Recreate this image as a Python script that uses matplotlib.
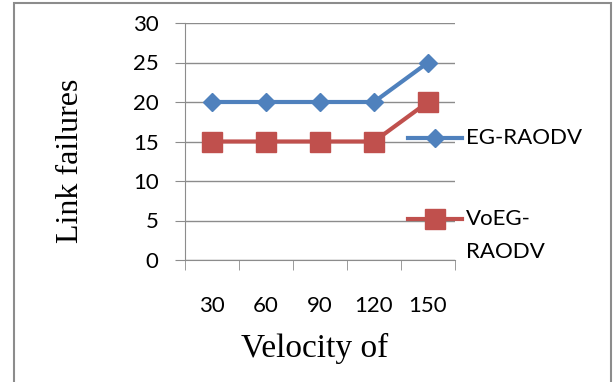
import matplotlib
matplotlib.use("Agg")
import matplotlib.pyplot as plt
from matplotlib.patches import Rectangle
from matplotlib.lines import Line2D

categories = ["30", "60", "90", "120", "150"]
eg_raodv = [20, 20, 20, 20, 25]
voeg_raodv = [15, 15, 15, 15, 20]
yticks = [0, 5, 10, 15, 20, 25, 30]

blue = "#4F81BD"
red = "#C0504D"
sans = ["Lato", "DejaVu Sans"]
serif = ["Liberation Serif", "DejaVu Serif"]
fs = 16

fig = plt.figure(figsize=(6.14, 3.82), dpi=100)
fig.patches.append(Rectangle((14/614, -0.1), (611-14)/614, 1.1 - 3/382, transform=fig.transFigure,
                             fill=False, edgecolor="#8c8c8c", linewidth=1.5))

ax = fig.add_axes([185/614, 122/382, 270/614, 237/382])
x = list(range(len(categories)))
ax.plot(x, eg_raodv, color=blue, lw=3, marker="D", ms=9.5, zorder=3)
ax.plot(x, voeg_raodv, color=red, lw=3, marker="s", ms=15, zorder=3)

ax.set_xlim(-0.5, len(categories) - 0.5)
ax.set_ylim(0, 30)
ax.set_yticks(yticks)
ax.set_yticklabels([str(v) for v in yticks], fontfamily=sans, fontsize=fs)
ax.set_xticks(x)
ax.set_xticklabels(categories, fontfamily=sans, fontsize=fs)
ax.set_xticks([i - 0.5 for i in range(len(categories) + 1)], minor=True)
ax.tick_params(axis="x", which="major", length=0, pad=26)
ax.tick_params(axis="x", which="minor", length=7, color="#8c8c8c")
ax.tick_params(axis="y", length=7, color="#8c8c8c", pad=12)
for s in ["top", "right"]:
    ax.spines[s].set_visible(False)
for s in ["left", "bottom"]:
    ax.spines[s].set_color("#8c8c8c")
ax.yaxis.grid(True, color="#8c8c8c", lw=1)
ax.set_axisbelow(True)

fig.text(70/614, 1 - 161/382, "Link failures", fontfamily=serif, fontsize=23,
         rotation=90, ha="center", va="center")
fig.text(315/614, 1 - 348/382, "Velocity of", fontfamily=serif, fontsize=24,
         ha="center", va="center")

# legend drawn manually at right
fig.add_artist(Line2D([408/614, 462/614], [1 - 138/382] * 2, color=blue, lw=3,
                      transform=fig.transFigure))
fig.add_artist(Line2D([435/614], [1 - 138/382], color=blue, marker="D", ms=9.5,
                      transform=fig.transFigure))
fig.text(466/614, 1 - 138/382, "EG-RAODV", fontfamily=sans, fontsize=fs, va="center", ha="left")
fig.add_artist(Line2D([408/614, 462/614], [1 - 219/382] * 2, color=red, lw=3,
                      transform=fig.transFigure))
fig.add_artist(Line2D([435/614], [1 - 219/382], color=red, marker="s", ms=15,
                      transform=fig.transFigure))
fig.text(466/614, 1 - 219/382, "VoEG-", fontfamily=sans, fontsize=fs, va="center", ha="left")
fig.text(466/614, 1 - 252/382, "RAODV", fontfamily=sans, fontsize=fs, va="center", ha="left")

fig.savefig("out.png", dpi=100)
